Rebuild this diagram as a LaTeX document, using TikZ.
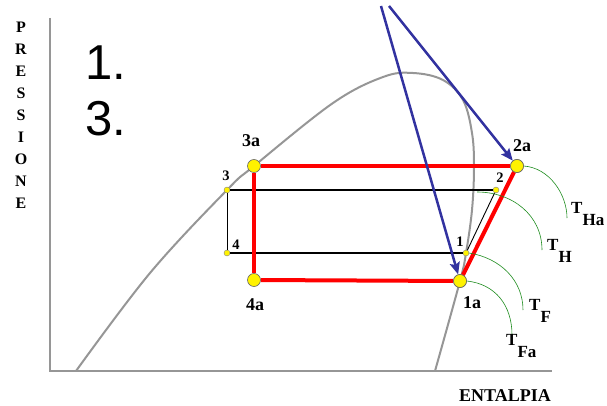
\documentclass[tikz,border=0pt]{standalone}
\usepackage{fontspec}
\setmainfont{Liberation Serif}
\newfontfamily\arialfont{Liberation Sans}
\usetikzlibrary{arrows.meta}
\definecolor{curvegray}{RGB}{150,150,150}
\definecolor{arrowblue}{RGB}{50,50,160}
\definecolor{isogreen}{RGB}{30,140,30}
\tikzset{
  bigdot/.style={circle,fill=yellow,draw=black!60,line width=0.6pt,inner sep=0pt,minimum size=13pt},
  smalldot/.style={circle,fill=yellow,draw=black!50,line width=0.4pt,inner sep=0pt,minimum size=6pt},
  redline/.style={red,line width=4pt},
  thickblack/.style={black,line width=1.8pt},
  thinblack/.style={black,line width=0.9pt},
  bluearrow/.style={arrowblue,line width=2.5pt,-{Stealth[length=12pt,width=10pt,inset=2pt]}},
  isotherm/.style={isogreen,line width=0.6pt},
  biglab/.style={font=\fontsize{18}{20}\selectfont\bfseries,inner sep=0pt},
  smalllab/.style={font=\fontsize{14.5}{16}\selectfont\bfseries,inner sep=0pt},
  tlab/.style={font=\fontsize{17}{19}\selectfont\bfseries,inner sep=0pt,anchor=west},
  axislab/.style={font=\fontsize{16}{22}\selectfont\bfseries,inner sep=0pt},
  bignum/.style={font=\arialfont\fontsize{49}{52}\selectfont,inner sep=0pt,anchor=base west},
}
\begin{document}
\begin{tikzpicture}[x=1pt,y=-1pt]
\useasboundingbox (0,0) rectangle (607,406);
% axes
\draw[curvegray,line width=1.6pt] (50,18) -- (50,371) -- (552,371);
% saturation curve
\draw[curvegray,line width=2pt] plot[smooth,tension=0.6] coordinates {(76,371) (150,273) (227,190) (254,166) (333,103) (383,77) (413,73) (443,80) (463,100) (472,133) (474,167) (472,210) (466,253) (460,281) (435,371)};
% axis labels
\node[axislab,align=center] (plab) at (21,115) {P\\R\\E\\S\\S\\I\\O\\N\\E};
\node[axislab,font=\fontsize{18}{20}\selectfont\bfseries] (hlab) at (505,396) {ENTALPIA};
% big numbers
\node[bignum] (n1) at (85,80) {1.};
\node[bignum] (n3) at (85,136) {3.};
% points
\node[bigdot] (p3a) at (254,166) {};
\node[bigdot] (p2a) at (517,166) {};
\node[bigdot] (p4a) at (254,280) {};
\node[bigdot] (p1a) at (460,281) {};
\node[smalldot] (p3) at (227,190) {};
\node[smalldot] (p2) at (496,190) {};
\node[smalldot] (p4) at (227,253) {};
\node[smalldot] (p1) at (466,253) {};
% black cycle
\draw[thickblack] (p3) -- (p2);
\draw[thinblack] (p2) -- (p1);
\draw[thickblack] (p1) -- (p4);
\draw[thinblack] (p4) -- (p3);
% red cycle
\draw[redline] (p3a) -- (p2a);
\draw[redline] (p2a) -- (p1a);
\draw[redline] (p1a) -- (p4a);
\draw[redline] (p4a) -- (p3a);
% isotherms
\coordinate (thstart) at (477,192);
\coordinate (thaend) at (567,218);
\coordinate (thend) at (542,250);
\coordinate (tfend) at (523,310);
\coordinate (tfaend) at (512,335);
\draw[isotherm] (p2a.east) .. controls (550,168) and (567,195) .. (thaend);
\draw[isotherm] (thstart) .. controls (512,192) and (542,215) .. (thend);
\draw[isotherm] (p1.east) .. controls (500,258) and (523,280) .. (tfend);
\draw[isotherm] (p1a.east) .. controls (495,284) and (512,305) .. (tfaend);
% blue arrows
\coordinate (b1) at (381,6);
\coordinate (b2) at (389,6);
\draw[bluearrow] (b1) -- (p1a);
\draw[bluearrow] (b2) -- (p2a);
% redraw dots on top
\node[bigdot] at (p1a) {};
\node[bigdot] at (p2a) {};
% point labels
\node[biglab] (l3a) at (251,141) {3a};
\node[biglab] (l2a) at (522,146) {2a};
\node[biglab] (l4a) at (255,305) {4a};
\node[biglab] (l1a) at (472,303) {1a};
\node[smalllab] (l3) at (226,176) {3};
\node[smalllab] (l2) at (500,178) {2};
\node[smalllab] (l4) at (236,245) {4};
\node[smalllab] (l1) at (460,242) {1};
% temperature labels
\node[tlab] (tha) at (571,214) {T\raisebox{-0.7em}{Ha}};
\node[tlab] (th) at (547,251) {T\raisebox{-0.7em}{H}};
\node[tlab] (tf) at (529,311) {T\raisebox{-0.7em}{F}};
\node[tlab] (tfa) at (506,346) {T\raisebox{-0.7em}{Fa}};
\end{tikzpicture}
\end{document}
